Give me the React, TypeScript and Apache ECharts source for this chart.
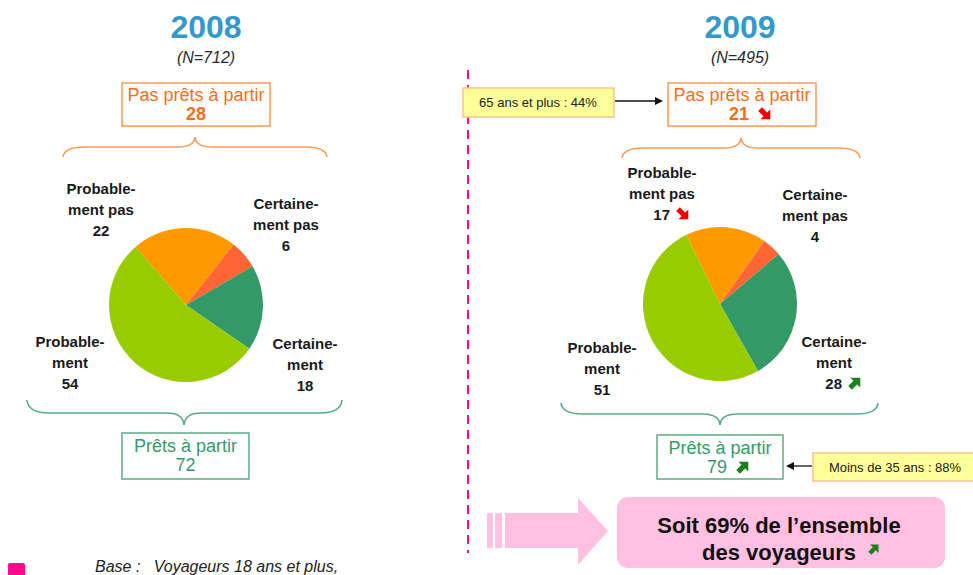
import React, { useEffect, useRef } from "react";
import * as echarts from "echarts";

// ---------- Data ----------
const years = ["2008", "2009"];
const sampleSizes = [712, 495];
const categories = ["Probablement pas", "Certainement pas", "Certainement", "Probablement"];
const categoryLabels = ["Probable-\nment pas", "Certaine-\nment pas", "Certaine-\nment", "Probable-\nment"];
const values2008 = [22, 6, 18, 54];
const values2009 = [17, 4, 28, 51];
const trends2009 = [-1, 0, 1, 0];
const notReadyTotals = [28, 21];
const notReadyTrends = [0, -1];
const readyTotals = [72, 79];
const readyTrends = [0, 1];
const notReadyLabel = "Pas prêts à partir";
const readyLabel = "Prêts à partir";
const notes = ["65 ans et plus : 44%", "Moins de 35 ans : 88%"];
const summaryLines = ["Soit 69% de l’ensemble", "des voyageurs"];
const baseNote = "Base :   Voyageurs 18 ans et plus,";

// ---------- Styles ----------
const FONT = "'Liberation Sans', Arial, sans-serif";
const SLICE_COLORS = ["#FF9900", "#FF6633", "#339966", "#99CC00"];
const ORANGE_TEXT = "#F76E1A";
const ORANGE_LINE = "#F99A55";
const GREEN_TEXT = "#36996B";
const GREEN_LINE = "#5DAA86";
const TITLE_BLUE = "#3399CC";
const RED_ARROW = "#F20000";
const GREEN_ARROW = "#1E7F1E";
const PINK = "#FFC0E1";
const MAGENTA = "#FF0A8C";

type Panel = {
  cx: number; cy: number; startAngle: number; titleX: number;
  boxX: number; boxW: number; greenX: number; greenW: number; greenY: number; greenH: number;
  labelPos: [number, number][];
  topBrace: number[]; bottomBrace: number[];
};

const panels: Panel[] = [
  {
    cx: 186, cy: 305, startAngle: 131, titleX: 206,
    boxX: 122, boxW: 148, greenX: 122, greenW: 127, greenY: 433, greenH: 46,
    labelPos: [[101, 209], [286, 224], [305, 364], [70, 362]],
    topBrace: [63, 327, 195, 157, 147, 137],
    bottomBrace: [27, 342, 184, 400, 413, 425],
  },
  {
    cx: 720, cy: 304, startAngle: 116, titleX: 740,
    boxX: 668, boxW: 148, greenX: 657, greenW: 126, greenY: 435, greenH: 44,
    labelPos: [[662, 193], [815, 215], [834, 362], [602, 368]],
    topBrace: [622, 860, 741, 158, 148, 138],
    bottomBrace: [561, 878, 720, 403, 414, 425],
  },
];

function txt(text: string, x: number, y: number, o: any = {}) {
  const align = o.align || "center";
  const valign = o.valign || "middle";
  return {
    type: "text", x, y, z: 20, silent: true,
    style: {
      text, fill: o.color || "#1a1a1a",
      fontSize: o.size || 15, fontWeight: o.weight || "normal", fontStyle: o.style || "normal",
      fontFamily: o.family || FONT, lineHeight: o.lineHeight || undefined,
      align, textAlign: align, verticalAlign: valign, textVerticalAlign: valign,
    },
  };
}

function arrow(x: number, y: number, dir: number, scale = 1) {
  return {
    type: "polygon", x, y, z: 20, silent: true, scaleX: scale, scaleY: scale,
    rotation: dir > 0 ? Math.PI / 4 : -Math.PI / 4,
    shape: { points: [[-7, -2.6], [0.5, -2.6], [0.5, -7], [7.5, 0], [0.5, 7], [0.5, 2.6], [-7, 2.6]] },
    style: { fill: dir > 0 ? GREEN_ARROW : RED_ARROW },
  };
}

function brace(p: number[], color: string) {
  const [x0, x1, xc, yEnd, yMid, yApex] = p;
  const r = 22, rc = 17;
  const st = { stroke: color, lineWidth: 1.6, fill: null };
  const mk = (shape: any) => ({ type: "bezierCurve", silent: true, shape, style: st });
  const ln = (shape: any) => ({ type: "line", silent: true, shape, style: st });
  return [
    mk({ x1: x0, y1: yEnd, cpx1: x0 + 1, cpy1: yMid, x2: x0 + r, y2: yMid }),
    ln({ x1: x0 + r, y1: yMid, x2: xc - rc, y2: yMid }),
    mk({ x1: xc - rc, y1: yMid, cpx1: xc - 1, cpy1: yMid, x2: xc, y2: yApex }),
    mk({ x1: xc + rc, y1: yMid, cpx1: xc + 1, cpy1: yMid, x2: xc, y2: yApex }),
    ln({ x1: xc + rc, y1: yMid, x2: x1 - r, y2: yMid }),
    mk({ x1: x1, y1: yEnd, cpx1: x1 - 1, cpy1: yMid, x2: x1 - r, y2: yMid }),
  ];
}

function valueWithTrend(value: number, cx: number, y: number, trend: number, o: any, off = 8, aoff = 21) {
  if (!trend) return [txt(String(value), cx, y, o)];
  return [txt(String(value), cx + off, y, { ...o, align: "right" }), arrow(cx + aoff, y, trend)];
}

export default function App() {
  const ref = useRef<HTMLDivElement>(null);
  useEffect(() => {
    document.body.style.margin = "0";
    if (!ref.current) return;
    const chart = echarts.init(ref.current, undefined, { renderer: "svg" });
    const allValues = [values2008, values2009];
    const allTrends = [[0, 0, 0, 0], trends2009];

    const graphics: any[] = [];
    panels.forEach((p, i) => {
      graphics.push(txt(years[i], p.titleX, 27, { size: 32, weight: "bold", color: TITLE_BLUE }));
      graphics.push(txt(`(N=${sampleSizes[i]})`, p.titleX, 57, { size: 16, style: "italic", color: "#2a2a2a" }));
      // not-ready box
      graphics.push({ type: "rect", silent: true, shape: { x: p.boxX, y: 83, width: p.boxW, height: 43 }, style: { fill: "#fff", stroke: ORANGE_LINE, lineWidth: 1.5 } });
      const bc = p.boxX + p.boxW / 2;
      graphics.push(txt(notReadyLabel, bc, 95, { size: 18, color: ORANGE_TEXT }));
      graphics.push(...valueWithTrend(notReadyTotals[i], bc, 114, notReadyTrends[i], { size: 18, color: ORANGE_TEXT, weight: "bold" }, 7, 23));
      // ready box
      graphics.push({ type: "rect", silent: true, shape: { x: p.greenX, y: p.greenY, width: p.greenW, height: p.greenH }, style: { fill: "#fff", stroke: GREEN_LINE, lineWidth: 1.5 } });
      const gc = p.greenX + p.greenW / 2;
      graphics.push(txt(readyLabel, gc, p.greenY + 13, { size: 18, color: GREEN_TEXT }));
      graphics.push(...valueWithTrend(readyTotals[i], gc, p.greenY + 32, readyTrends[i], { size: 18, color: GREEN_TEXT }, 7, 23));
      // braces
      graphics.push(...brace(p.topBrace, ORANGE_LINE));
      graphics.push(...brace(p.bottomBrace, GREEN_LINE));
      // slice labels
      categoryLabels.forEach((lab, k) => {
        const [lx, ly] = p.labelPos[k];
        const o = { size: 15, weight: "bold", color: "#1a1a1a" };
        graphics.push(txt(lab, lx, ly - 10.5, { ...o, lineHeight: 21 }));
        graphics.push(...valueWithTrend(allValues[i][k], lx, ly + 21, allTrends[i][k], o));
      });
    });

    // dashed separator
    graphics.push({ type: "line", silent: true, shape: { x1: 468, y1: 70, x2: 468, y2: 553 }, style: { stroke: MAGENTA, lineWidth: 2, lineDash: [9, 6] } });

    // yellow notes
    graphics.push({ type: "rect", silent: true, shape: { x: 463, y: 88, width: 151, height: 29 }, style: { fill: "#FFFF99", stroke: "#F9C38E", lineWidth: 1.5 } });
    graphics.push(txt(notes[0], 538, 102.5, { size: 13, color: "#222" }));
    graphics.push({ type: "line", silent: true, shape: { x1: 615, y1: 101, x2: 657, y2: 101 }, style: { stroke: "#111", lineWidth: 1.3 } });
    graphics.push({ type: "polygon", silent: true, shape: { points: [[663, 101], [655, 97], [655, 105]] }, style: { fill: "#111" } });

    graphics.push({ type: "rect", silent: true, shape: { x: 813, y: 453, width: 170, height: 28 }, style: { fill: "#FFFF99", stroke: "#F9C38E", lineWidth: 1.5 } });
    graphics.push(txt(notes[1], 895, 467, { size: 13, color: "#222" }));
    graphics.push({ type: "line", silent: true, shape: { x1: 812, y1: 466, x2: 793, y2: 466 }, style: { stroke: "#111", lineWidth: 1.3 } });
    graphics.push({ type: "polygon", silent: true, shape: { points: [[786, 466], [794, 462], [794, 470]] }, style: { fill: "#111" } });

    // pink arrow + summary box
    graphics.push({ type: "rect", silent: true, shape: { x: 487, y: 513, width: 6, height: 35 }, style: { fill: PINK } });
    graphics.push({ type: "rect", silent: true, shape: { x: 495, y: 513, width: 7, height: 35 }, style: { fill: PINK } });
    graphics.push({ type: "polygon", silent: true, shape: { points: [[505, 513], [578, 513], [578, 498], [608, 531], [578, 565], [578, 548], [505, 548]] }, style: { fill: PINK } });
    graphics.push({ type: "rect", silent: true, shape: { x: 617, y: 497, width: 328, height: 71, r: 11 }, style: { fill: PINK } });
    graphics.push(txt(summaryLines[0], 779, 525, { size: 22, weight: "bold", color: "#111" }));
    graphics.push(txt(summaryLines[1], 779, 552, { size: 22, weight: "bold", color: "#111" }));
    graphics.push(arrow(874, 549, 1, 0.85));

    // base note
    graphics.push({ type: "rect", silent: true, shape: { x: 8, y: 563, width: 17, height: 14, r: 2 }, style: { fill: MAGENTA } });
    graphics.push(txt(baseNote, 95, 566, { size: 16, style: "italic", color: "#222", align: "left" }));

    const mkSeries = (i: number) => ({
      type: "pie", name: years[i], silent: true,
      center: [panels[i].cx, panels[i].cy], radius: 77,
      startAngle: panels[i].startAngle, clockwise: true,
      label: { show: false }, labelLine: { show: false },
      itemStyle: { borderWidth: 0 },
      data: categories.map((c, k) => ({ name: c, value: allValues[i][k], itemStyle: { color: SLICE_COLORS[k] } })),
    });

    chart.setOption({
      animation: false,
      backgroundColor: "#ffffff",
      series: [mkSeries(0), mkSeries(1)],
      graphic: { elements: graphics },
    });
    return () => chart.dispose();
  }, []);
  return <div ref={ref} style={{ width: 973, height: 575 }} />;
}
